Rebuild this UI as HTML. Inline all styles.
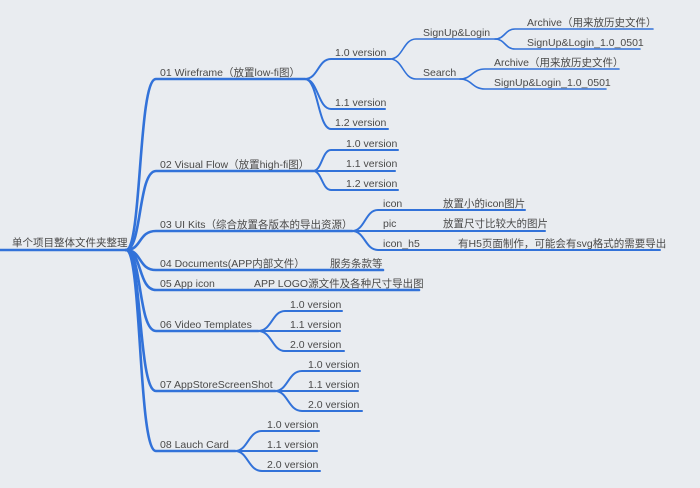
<!DOCTYPE html>
<html><head><meta charset="utf-8"><style>
html,body{margin:0;padding:0;background:#e9ecf0;}
svg{display:block}
text{font-family:"Liberation Sans","Noto Sans CJK SC",sans-serif;font-size:10.5px;fill:#4a4a4a}
</style></head><body>
<svg width="700" height="488" viewBox="0 0 700 488" xmlns="http://www.w3.org/2000/svg">
<rect width="700" height="488" fill="#e9ecf0"/>
<g fill="none" stroke="#3272d9" stroke-linecap="round">
<!-- root -->
<path d="M0,250 H126" stroke-width="2.6"/>
<g stroke-width="2.6">
<path d="M126,250 C142,250 138,79 156,79 H305"/>
<path d="M126,250 C142,250 138,171 156,171 H313"/>
<path d="M126,250 C142,250 138,231 156,231 H352"/>
<path d="M126,250 C142,250 138,270 156,270 H383"/>
<path d="M126,250 C142,250 138,290 156,290 H419"/>
<path d="M126,250 C142,250 138,331 156,331 H258"/>
<path d="M126,250 C142,250 138,391 156,391 H275"/>
<path d="M126,250 C142,250 138,451 156,451 H235"/>
</g>
<g stroke-width="2">
<!-- 01 -->
<path d="M305,79 C318,79 318,59 331,59 H390"/>
<path d="M305,79 C318,79 318,109 331,109 H385"/>
<path d="M305,79 C318,79 318,129 331,129 H388"/>
<!-- 02 -->
<path d="M313,171 C322,171 322,150 331,150 H398"/>
<path d="M313,171 H395"/>
<path d="M313,171 C322,171 322,190 331,190 H398"/>
<!-- 03 -->
<path d="M352,231 C365,231 365,210 378,210 H525"/>
<path d="M352,231 H545"/>
<path d="M352,231 C365,231 365,250 378,250 H660"/>
<!-- 06 -->
<path d="M258,331 C272,331 272,311 285,311 H342"/>
<path d="M258,331 H340"/>
<path d="M258,331 C272,331 272,351 285,351 H344"/>
<!-- 07 -->
<path d="M275,391 C288,391 288,371 302,371 H360"/>
<path d="M275,391 H358"/>
<path d="M275,391 C288,391 288,411 302,411 H362"/>
<!-- 08 -->
<path d="M235,451 C248,451 248,431 262,431 H319"/>
<path d="M235,451 H317"/>
<path d="M235,451 C248,451 248,471 262,471 H320"/>
</g>
<g stroke-width="1.6">
<path d="M390,59 C403,59 403,39 416,39 H495"/>
<path d="M390,59 C403,59 403,79 416,79 H460"/>
<path d="M495,39 C505,39 505,29 515,29 H653"/>
<path d="M495,39 C505,39 505,49 515,49 H640"/>
<path d="M460,79 C472,79 472,69 485,69 H619"/>
<path d="M460,79 C472,79 472,89 485,89 H606"/>
</g>
</g>
<text x="12" y="246">单个项目整体文件夹整理</text>
<text x="160" y="76">01 Wireframe（放置low-fi图）</text>
<text x="160" y="168">02 Visual Flow（放置high-fi图）</text>
<text x="160" y="228">03 UI Kits（综合放置各版本的导出资源）</text>
<text x="160" y="267">04 Documents(APP内部文件）</text>
<text x="330" y="267">服务条款等</text>
<text x="160" y="287">05 App icon</text>
<text x="254" y="287">APP LOGO源文件及各种尺寸导出图</text>
<text x="160" y="328">06 Video Templates</text>
<text x="160" y="388">07 AppStoreScreenShot</text>
<text x="160" y="448">08 Lauch Card</text>
<text x="335" y="56">1.0 version</text>
<text x="335" y="106">1.1 version</text>
<text x="335" y="126">1.2 version</text>
<text x="423" y="36">SignUp&amp;Login</text>
<text x="423" y="76">Search</text>
<text x="527" y="26">Archive（用来放历史文件）</text>
<text x="527" y="46">SignUp&amp;Login_1.0_0501</text>
<text x="494" y="66">Archive（用来放历史文件）</text>
<text x="494" y="86">SignUp&amp;Login_1.0_0501</text>
<text x="346" y="147">1.0 version</text>
<text x="346" y="167">1.1 version</text>
<text x="346" y="187">1.2 version</text>
<text x="383" y="207">icon</text>
<text x="443" y="207">放置小的icon图片</text>
<text x="383" y="227">pic</text>
<text x="443" y="227">放置尺寸比较大的图片</text>
<text x="383" y="247">icon_h5</text>
<text x="458" y="247">有H5页面制作，可能会有svg格式的需要导出</text>
<text x="290" y="308">1.0 version</text>
<text x="290" y="328">1.1 version</text>
<text x="290" y="348">2.0 version</text>
<text x="308" y="368">1.0 version</text>
<text x="308" y="388">1.1 version</text>
<text x="308" y="408">2.0 version</text>
<text x="267" y="428">1.0 version</text>
<text x="267" y="448">1.1 version</text>
<text x="267" y="468">2.0 version</text>
</svg>
</body></html>
